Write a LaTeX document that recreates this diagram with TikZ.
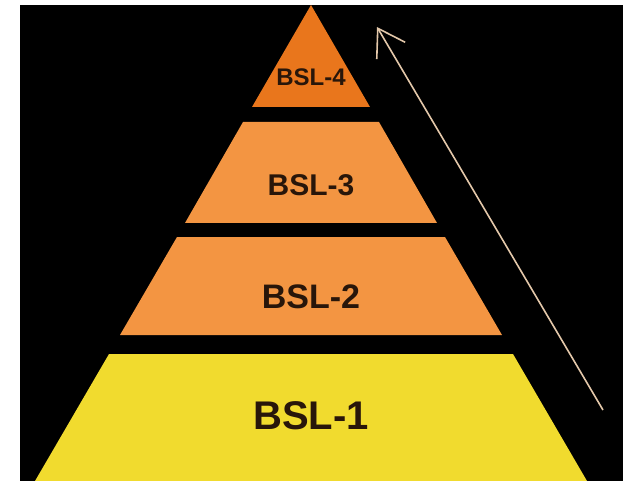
\documentclass[tikz,border=0pt]{standalone}
\usepackage{fontspec}
\setmainfont{Liberation Sans}
\usetikzlibrary{arrows.meta}
\definecolor{toporange}{RGB}{233,118,28}
\definecolor{midorange}{RGB}{243,149,66}
\definecolor{baseyellow}{RGB}{241,219,46}
\definecolor{ink}{RGB}{40,22,10}
\definecolor{arrowpale}{RGB}{228,200,170}

\begin{document}
\begin{tikzpicture}[x=1pt,y=-1pt, level/.style = {text=ink, inner sep=0pt}]
\useasboundingbox (0,0) rectangle (629,481);
\fill[black] (20,5) rectangle (623,481);
% the four tiers, all on the sides of one triangle
\fill[toporange] (311,5) -- (370,107) -- (252,107) -- cycle;
\fill[midorange] (243,122) -- (379,122) -- (437,223) -- (185,223) -- cycle;
\fill[midorange] (177,237) -- (445,237) -- (502,335) -- (120,335) -- cycle;
\fill[baseyellow] (109,354) -- (513,354) -- (587,481) -- (35,481) -- cycle;
\node[level, font=\bfseries\fontsize{24}{24}\selectfont](bsl4) at (311,77) {BSL-4};
\node[level, font=\bfseries\fontsize{30}{30}\selectfont](bsl3) at (311,185) {BSL-3};
\node[level, font=\bfseries\fontsize{34}{34}\selectfont](bsl2) at (311,297) {BSL-2};
\node[level, font=\bfseries\fontsize{40}{40}\selectfont](bsl1) at (311,416) {BSL-1};
\coordinate (tail) at (603,410); \coordinate (tip) at (377,27);
\draw[arrowpale, line width=1.6pt, -{Straight Barb[length=26pt, width=33pt]}] (tail) -- (tip);
\end{tikzpicture}
\end{document}
